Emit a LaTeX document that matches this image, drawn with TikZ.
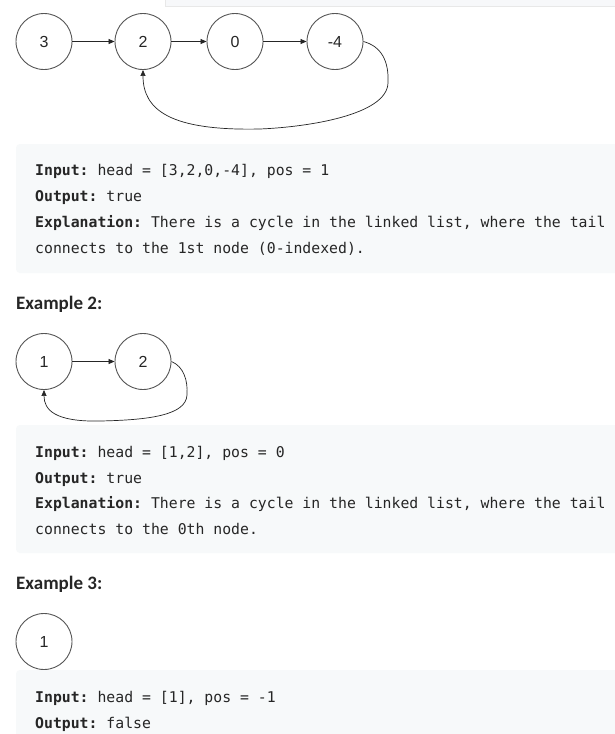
\documentclass[tikz,border=0pt]{standalone}
\usepackage{fontspec}
\setmainfont{Liberation Sans}
\setmonofont{DejaVu Sans Mono}
\newfontfamily\headfont{Carlito}
\usetikzlibrary{arrows.meta}
\definecolor{boxbg}{HTML}{F7F9FA}
\definecolor{stripbg}{HTML}{F7F8FA}
\definecolor{stripline}{HTML}{E8E8E8}
\definecolor{txt}{HTML}{262626}
\definecolor{ring}{HTML}{555555}
\begin{document}
\begin{tikzpicture}[x=1pt,y=-1pt,
  lnode/.style={circle, draw=ring, line width=0.9pt, minimum size=56pt, inner sep=0pt,
    font=\fontsize{16}{16}\selectfont, text=black!85},
  link/.style={-{Triangle[length=6pt,width=5pt]}, line width=0.7pt, draw=black!85},
  codeline/.style={anchor=base west, inner sep=0pt, font=\fontsize{14.8}{18}\ttfamily, text=txt},
  heading/.style={anchor=base west, inner sep=0pt, font=\fontsize{19}{20}\headfont\bfseries, text=txt},
  codebox/.style={fill=boxbg, rounded corners=4pt}]
\useasboundingbox (0,0) rectangle (615,734);
\fill[white] (0,0) rectangle (615,734);
% top strip
\draw[fill=stripbg, draw=stripline, line width=0.8pt] (165,-3) rectangle (620,6);
% code boxes
\fill[codebox] (16,144) rectangle (630,273);
\fill[codebox] (16,425) rectangle (630,553);
\fill[codebox] (16,670) rectangle (630,750);

% Example 1
\node[lnode] (a1) at (44,41.5) {3};
\node[lnode] (a2) at (143,41.5) {2};
\node[lnode] (a3) at (235,41.5) {0};
\node[lnode] (a4) at (335,41.5) {-4};
\draw[link] (a1) -- (a2);
\draw[link] (a2) -- (a3);
\draw[link] (a3) -- (a4);
\coordinate (l1) at (388,83);
\coordinate (l2) at (260,129);
\draw[link] (a4.east) .. controls +(18,5) and +(1,-22) .. (l1)
  .. controls +(-1,32) and +(48,-2) .. (l2)
  .. controls +(-90,2) and +(0,40) .. (a2.south);

\node[codeline] (t1) at (35,175) {\textbf{Input:} head = [3,2,0,-4], pos = 1};
\node[codeline] (t2) at (35,201) {\textbf{Output:} true};
\node[codeline] (t3) at (35,227) {\textbf{Explanation:} There is a cycle in the linked list, where the tail};
\node[codeline] (t4) at (35,253) {connects to the 1st node (0-indexed).};

% Example 2
\node[heading] (h2) at (16,309) {Example 2:};
\node[lnode] (b1) at (44,361.5) {1};
\node[lnode] (b2) at (143,361.5) {2};
\draw[link] (b1) -- (b2);
\coordinate (m1) at (187,395);
\coordinate (m2) at (100,421);
\draw[link] (b2.east) .. controls +(12,5) and +(1,-15) .. (m1)
  .. controls +(-1,20) and +(50,-1) .. (m2)
  .. controls +(-45,1) and +(0,20) .. (b1.south);

\node[codeline] (u1) at (35,457) {\textbf{Input:} head = [1,2], pos = 0};
\node[codeline] (u2) at (35,483) {\textbf{Output:} true};
\node[codeline] (u3) at (35,508) {\textbf{Explanation:} There is a cycle in the linked list, where the tail};
\node[codeline] (u4) at (35,534) {connects to the 0th node.};

% Example 3
\node[heading] (h3) at (16,589) {Example 3:};
\node[lnode] (c1) at (44,641.5) {1};
\node[codeline] (v1) at (35,702) {\textbf{Input:} head = [1], pos = -1};
\node[codeline] (v2) at (35,728) {\textbf{Output:} false};
\end{tikzpicture}
\end{document}
